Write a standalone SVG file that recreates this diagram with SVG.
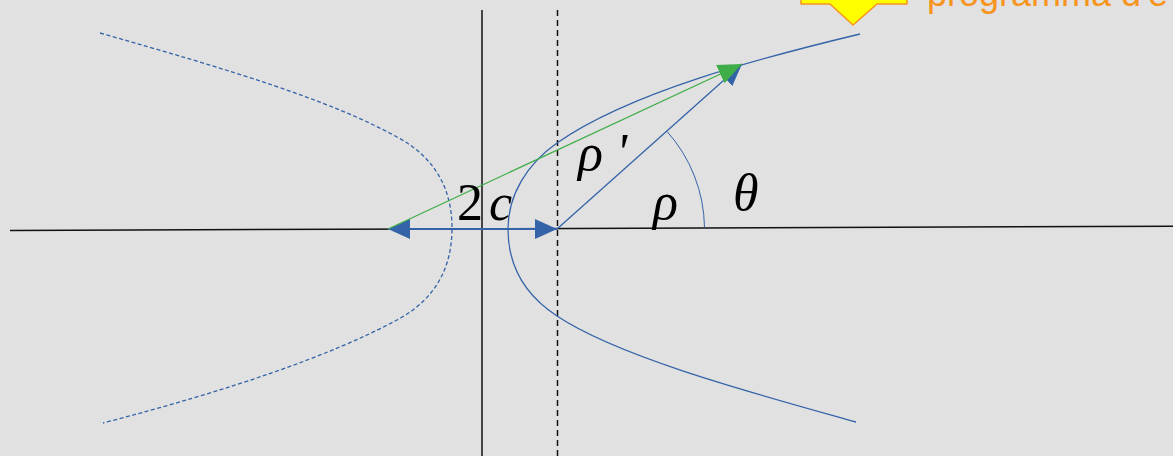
<svg xmlns="http://www.w3.org/2000/svg" width="1173" height="456" viewBox="0 0 1173 456">
  <style>
    .axis { stroke: #111; stroke-width: 1.5; fill: none; }
    .dash { stroke: #111; stroke-width: 1.5; fill: none; stroke-dasharray: 6 4; }
    .curve { stroke: #3463a8; stroke-width: 1.3; fill: none; }
    .curve-dash { stroke: #3463a8; stroke-width: 1.3; fill: none; stroke-dasharray: 4 2.5; }
    .blue { stroke: #3463a8; fill: none; }
    .green { stroke: #3fae49; stroke-width: 1.3; fill: none; }
    .lbl { font-family: "Liberation Serif", "Times New Roman", serif; font-size: 52px; fill: #000; }
    .it { font-style: italic; }
  </style>
  <defs>
    <marker id="headBlue" viewBox="0 0 22 20" refX="22" refY="10" markerWidth="22" markerHeight="20" markerUnits="userSpaceOnUse" orient="auto-start-reverse">
      <path d="M0,0 L22,10 L0,20 Z" fill="#3463a8"/>
    </marker>
    <marker id="headGreen" viewBox="0 0 24 20" refX="24" refY="10" markerWidth="24" markerHeight="20" markerUnits="userSpaceOnUse" orient="auto">
      <path d="M0,0 L24,10 L0,20 Z" fill="#3fae49"/>
    </marker>
  </defs>
  <rect x="0" y="0" width="1173" height="456" fill="#e1e1e1"/>

  <g id="axes">
    <line class="axis" x1="10" y1="230.5" x2="1173" y2="226.3"/>
    <line class="axis" x1="482" y1="10" x2="482" y2="456"/>
    <line class="dash" x1="557.5" y1="10" x2="557.5" y2="456"/>
  </g>

  <g id="branch-right">
    <path class="curve" d="M860,34 C760,58 630,92 557,143 C527,164 508,195 508,229 C508,265 525,295 557,316 C620,358 760,395 856,422"/>
  </g>

  <g id="branch-left">
    <path class="curve-dash" d="M100,33 C230,70 330,100 397,137 C440,160 452,195 452,228 C452,262 440,297 397,320 C330,356 230,390 103,423"/>
  </g>

  <g id="connectors">
    <line class="blue" stroke-width="2" x1="388" y1="229" x2="557" y2="229" marker-start="url(#headBlue)" marker-end="url(#headBlue)"/>
    <line class="blue" stroke-width="1.3" x1="557" y1="229" x2="742" y2="64" marker-end="url(#headBlue)"/>
    <line class="green" x1="388" y1="229" x2="742" y2="64" marker-end="url(#headGreen)"/>
    <path class="blue" stroke-width="1" d="M666.7,131.1 A147,147 0 0 1 704.5,227.5"/>
  </g>

  <g id="labels">
    <text class="lbl" x="457" y="220">2<tspan class="it" dx="6">c</tspan></text>
    <text class="lbl it" x="578" y="170">ρ '</text>
    <text class="lbl it" x="653" y="219">ρ</text>
    <text class="lbl it" x="733" y="210">θ</text>
  </g>

  <g id="callout">
    <path d="M801,-10 L907,-10 L907,4 L877,4 L853,25 L830,4 L801,4 Z" fill="#ffff00" stroke="#f7941d" stroke-width="1.5" stroke-linejoin="miter"/>
    <text x="927" y="6" font-family="Liberation Sans, Arial, sans-serif" font-size="36" fill="#f7941d">programma d'e</text>
  </g>
</svg>
